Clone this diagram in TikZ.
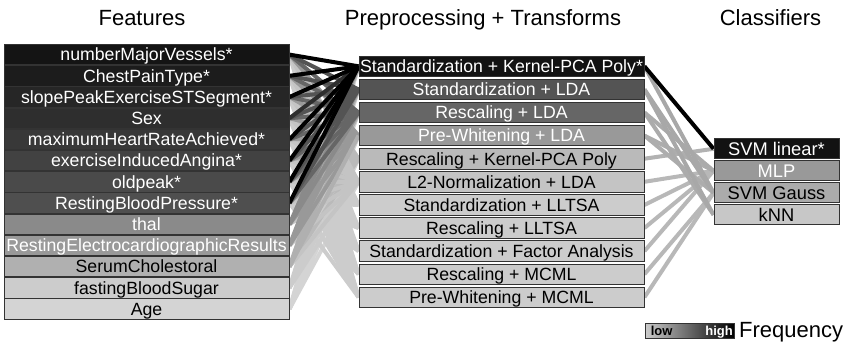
\documentclass[tikz,border=0pt]{standalone}
\usepackage{fontspec}
\setmainfont{Liberation Sans}
\usetikzlibrary{backgrounds}

\newcommand\keepval[2]{\expandafter\xdef\csname #1\endcsname{#2}}
\newcommand\getval[1]{\csname #1\endcsname}

\begin{document}
\begin{tikzpicture}[x=1pt,y=-1pt,
  box/.style={draw=black!80, line width=0.9pt, inner sep=0pt,
    text height=12.7pt, text depth=0pt, font=\fontsize{17.7}{20}\selectfont},
  feat/.style={box, minimum width=285pt, minimum height=20.4pt},
  prep/.style={box, minimum width=285pt, minimum height=20.5pt},
  clf/.style={box, minimum width=125pt, minimum height=20pt,
    font=\fontsize{18.3}{20}\selectfont, text height=13.1pt},
  title/.style={anchor=base, font=\fontsize{22}{26}\selectfont},
  link/.style={line width=4pt}]
\useasboundingbox (0,0) rectangle (845,346);

% column titles
\node[title] (tf) at (142,25.5) {Features};
\node[title] (tp) at (483,25.5) {Preprocessing + Transforms};
\node[title] (tc) at (770.5,25.5) {Classifiers};

% features: label / grey level / text colour / starred
\foreach \name/\g/\tc/\st [count=\i] in {
  numberMajorVessels*/92/white/1,
  ChestPainType*/89/white/1,
  slopePeakExerciseSTSegment*/85/white/1,
  Sex/82/white/0,
  maximumHeartRateAchieved*/78/white/1,
  exerciseInducedAngina*/74/white/1,
  oldpeak*/71/white/1,
  RestingBloodPressure*/69/white/1,
  thal/46/white/0,
  RestingElectrocardiographicResults/40/white/0,
  SerumCholestoral/31/black/0,
  fastingBloodSugar/20/black/0,
  Age/17/black/0} {
  \node[feat, fill=black!\g, text=\tc] (f\i) at (146.5,{33.4+21.2*\i}) {\name};
  \keepval{fg\i}{\g}\keepval{fs\i}{\st}
}

% preprocessing + transforms
\foreach \name/\g/\tc [count=\j] in {
  Standardization + Kernel-PCA Poly*/93/white,
  Standardization + LDA/67/white,
  Rescaling + LDA/60/white,
  Pre-Whitening + LDA/40/white,
  Rescaling + Kernel-PCA Poly/27/black,
  L2-Normalization + LDA/23/black,
  Standardization + LLTSA/20/black,
  Rescaling + LLTSA/20/black,
  Standardization + Factor Analysis/20/black,
  Rescaling + MCML/20/black,
  Pre-Whitening + MCML/20/black} {
  \node[prep, fill=black!\g, text=\tc] (p\j) at (501.5,{66.3+23.1*(\j-1)}) {\name};
  \keepval{pg\j}{\g}
}

% classifiers
\foreach \name/\g/\tc [count=\k] in {
  SVM linear*/93/white,
  MLP/40/white,
  SVM Gauss/33/black,
  kNN/22/black} {
  \node[clf, fill=black!\g, text=\tc] (c\k) at (776.5,{148.8+22*(\k-1)}) {\name};
  \keepval{cg\k}{\g}
}

% connectors beneath the boxes; lighter links first, darker on top
\begin{scope}[on background layer]
  \foreach \lev in {20,30,...,100}
    \foreach \j in {1,...,11}
      \foreach \i in {1,...,13} {
        \pgfmathtruncatemacro\d{(\getval{fs\i}==1 && \j==1) ? 100 : min(\getval{fg\i},\getval{pg\j})}
        \pgfmathtruncatemacro\ok{and(and(\d<=\lev,\d>\lev-10),or(\i<9,\j<7))}
        \ifnum\ok=1
          \draw[link, draw=black!\d] (f\i.east) -- (p\j.west);
        \fi
      }
  % transforms to classifiers
  \foreach \j/\k/\d in {11/3/28, 10/3/28, 9/2/28, 8/2/28, 7/2/28, 6/2/28, 5/1/30,
                        4/2/32, 4/3/32, 3/2/33, 3/4/33, 2/3/34, 2/4/34, 1/3/34}
    \draw[link, draw=black!\d] (p\j.east) -- (c\k.west);
  \draw[link, draw=black] (p1.east) -- (c1.west);
\end{scope}

% frequency legend
\node[draw=black!80, line width=0.9pt, inner sep=0pt, minimum width=89pt,
  minimum height=15pt, left color=black!20, right color=black] (lg) at (689.5,330.5) {};
\node[anchor=west, inner sep=0pt, xshift=6pt, text height=9.5pt, text depth=0pt,
  font=\fontsize{13}{14}\bfseries] (lo) at (lg.west) {low};
\node[anchor=east, inner sep=0pt, xshift=-1.5pt, text=white, text height=9.5pt, text depth=0pt,
  font=\fontsize{13}{14}\bfseries] (hi) at (lg.east) {high};
\node[anchor=base west, inner sep=0pt, font=\fontsize{22}{26}\selectfont] (fr) at (739,337) {Frequency};
\end{tikzpicture}
\end{document}
